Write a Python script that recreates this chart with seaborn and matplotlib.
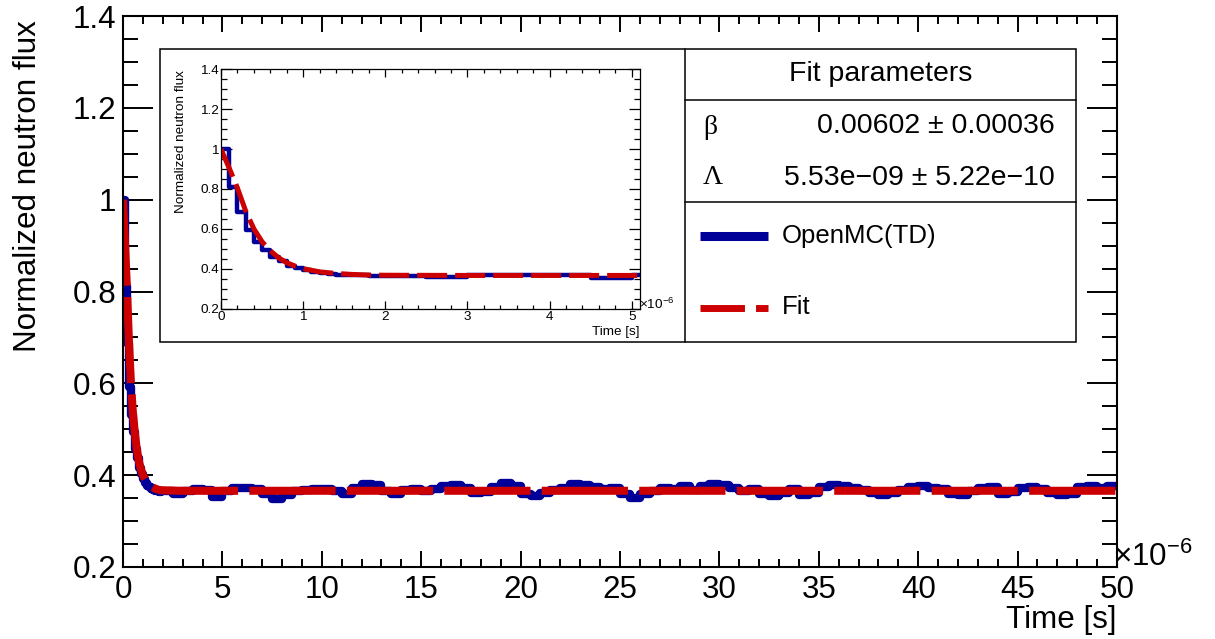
import numpy as np
import pandas as pd
import matplotlib
matplotlib.use("Agg")
import matplotlib.pyplot as plt
from matplotlib.ticker import MultipleLocator, FuncFormatter
from matplotlib.lines import Line2D
from matplotlib.patches import Rectangle
import seaborn as sns

# ---------------- data (time in microseconds) ----------------
early_bin_us = 0.1          # 0 - 2 us
late_bin_us = 0.5           # 2 - 50 us
early_flux = [1.000, 0.811, 0.687, 0.593, 0.532, 0.494, 0.458, 0.438, 0.415, 0.403,
              0.391, 0.383, 0.377, 0.374, 0.370, 0.367, 0.366, 0.366, 0.364, 0.365]
late_flux = [0.365, 0.360, 0.366, 0.370, 0.368, 0.352, 0.366, 0.371, 0.372, 0.370,
             0.358, 0.348, 0.356, 0.366, 0.368, 0.369, 0.370, 0.366, 0.360, 0.372,
             0.380, 0.378, 0.366, 0.360, 0.368, 0.370, 0.366, 0.370, 0.376, 0.379,
             0.372, 0.362, 0.364, 0.374, 0.382, 0.376, 0.358, 0.354, 0.362, 0.368,
             0.372, 0.380, 0.378, 0.374, 0.370, 0.372, 0.358, 0.350, 0.360, 0.366,
             0.372, 0.370, 0.376, 0.368, 0.376, 0.380, 0.378, 0.372, 0.366, 0.370,
             0.360, 0.355, 0.362, 0.370, 0.356, 0.362, 0.374, 0.378, 0.376, 0.372,
             0.368, 0.362, 0.356, 0.362, 0.368, 0.374, 0.376, 0.372, 0.370, 0.358,
             0.356, 0.366, 0.372, 0.374, 0.360, 0.364, 0.372, 0.374, 0.370, 0.362,
             0.356, 0.360, 0.374, 0.376, 0.372, 0.376]
fit_time_us = [0.0, 0.1, 0.2, 0.3, 0.4, 0.5, 0.6, 0.7, 0.8, 0.9, 1.0, 1.2, 1.4, 1.6,
               1.8, 2.0, 3.0, 50.0]
fit_flux = [1.000, 0.905, 0.805, 0.690, 0.600, 0.535, 0.490, 0.455, 0.430, 0.413,
            0.400, 0.384, 0.376, 0.371, 0.368, 0.367, 0.366, 0.366]

beta_text = "0.00602 \u00b1 0.00036"
lambda_text = "5.53e\u221209 \u00b1 5.22e\u221210"
header_text = "Fit parameters"
series_names = ["OpenMC(TD)", "Fit"]
x_label = "Time [s]"
y_label = "Normalized neutron flux"

# ---------------- build step table ----------------
early_edges = np.round(np.arange(len(early_flux) + 1) * early_bin_us, 6)
late_edges = np.round(early_edges[-1] + np.arange(1, len(late_flux) + 1) * late_bin_us, 6)
edges = np.concatenate([early_edges, late_edges])
flux = np.array(early_flux + late_flux)
hist_df = pd.DataFrame({"time": edges, "flux": np.append(flux, flux[-1])})
fit_df = pd.DataFrame({"time": fit_time_us, "flux": fit_flux})

# ---------------- style ----------------
sns.set_style("white")
plt.rcParams["font.family"] = ["Liberation Sans", "DejaVu Sans"]
plt.rcParams["mathtext.fontset"] = "custom"
plt.rcParams["mathtext.rm"] = "Liberation Sans"
plt.rcParams["mathtext.it"] = "Liberation Sans:italic"
plt.rcParams["axes.unicode_minus"] = True
for k in ["text.color", "axes.labelcolor", "xtick.color", "ytick.color",
          "xtick.labelcolor", "ytick.labelcolor", "axes.edgecolor"]:
    plt.rcParams[k] = "black"

BLUE = "#000099"
RED = "#cc0000"
W, H = 1215, 639
fig = plt.figure(figsize=(W / 100, H / 100), dpi=100)

fmt = FuncFormatter(lambda v, p: f"{v:g}")

# ---------------- main axes ----------------
ax = fig.add_axes([123 / W, 1 - 567 / H, 994 / W, 551 / H], zorder=0)
sns.lineplot(data=hist_df, x="time", y="flux", ax=ax, drawstyle="steps-post",
             color=BLUE, linewidth=6, estimator=None, sort=False, legend=False)
sns.lineplot(data=fit_df, x="time", y="flux", ax=ax, color=RED, linewidth=5.8,
             estimator=None, sort=False, legend=False)
ax.lines[-1].set_dashes((10.7, 1.4))
ax.lines[-1].set_dash_capstyle("butt")
ax.set_xlim(0, 50)
ax.set_ylim(0.2, 1.4)
ax.set_xlabel("")
ax.set_ylabel("")
ax.xaxis.set_major_locator(MultipleLocator(5))
ax.xaxis.set_minor_locator(MultipleLocator(1))
ax.yaxis.set_major_locator(MultipleLocator(0.2))
ax.yaxis.set_minor_locator(MultipleLocator(0.05))
ax.xaxis.set_major_formatter(fmt)
ax.yaxis.set_major_formatter(fmt)
ax.tick_params(which="both", direction="in", top=True, right=True, bottom=True,
               left=True, width=1.4, color="black", labelcolor="black",
               labelsize=22.6)
ax.tick_params(axis="x", which="major", length=11.5, pad=6)
ax.tick_params(axis="x", which="minor", length=5.8)
ax.tick_params(axis="y", which="major", length=21.6, pad=5)
ax.tick_params(axis="y", which="minor", length=10.8)
for s in ax.spines.values():
    s.set_linewidth(1.5)
    s.set_color("black")

# ---------------- overlay (box, legend, labels) ----------------
ov = fig.add_axes([0, 0, 1, 1], zorder=1)
ov.set_xlim(0, W)
ov.set_ylim(H, 0)
ov.set_axis_off()
ov.patch.set_facecolor("none")
ov.add_patch(Rectangle((160, 48.5), 1076 - 160, 342 - 48.5, facecolor="white",
                       edgecolor="black", linewidth=1.1))
ov.plot([685, 685], [48.5, 342], color="black", linewidth=1.1)
ov.plot([685, 1076], [100, 100], color="black", linewidth=1.1)
ov.plot([685, 1076], [202, 202], color="black", linewidth=1.1)
ov.text(880.5, 74, header_text, ha="center", va="center", fontsize=20.5)
ov.text(703, 127, "\u03b2", ha="left", va="center", fontsize=20,
        family=["Liberation Serif", "DejaVu Serif"])
ov.text(703, 177, "\u039b", ha="left", va="center", fontsize=20,
        family=["Liberation Serif", "DejaVu Serif"])
ov.text(1055, 126, beta_text, ha="right", va="center", fontsize=20.5)
ov.text(1055, 178, lambda_text, ha="right", va="center", fontsize=20.5)
ov.add_line(Line2D([700, 767.5], [236, 236], color=BLUE, linewidth=6.5,
                   solid_capstyle="butt"))
ov.text(782, 236, series_names[0], ha="left", va="center", fontsize=18.5)
ov.add_line(Line2D([700, 767.5], [307.5, 307.5], color=RED, linewidth=5,
                   dashes=(6.4, 1.6), dash_capstyle="butt"))
ov.text(782, 307.5, series_names[1], ha="left", va="center", fontsize=18.5)
# main axis labels
ov.text(1117, 620, x_label, ha="right", va="center", fontsize=22.6)
ov.text(28, 186, y_label, ha="center", va="center", rotation=90, fontsize=22.6)
ov.text(1113, 557, r"$\times10^{-6}$", ha="left", va="center", fontsize=22.6)
# inset axis labels
ov.text(640, 332, x_label, ha="right", va="center", fontsize=9.7)
ov.text(181, 142, y_label, ha="center", va="center", rotation=90, fontsize=9.7)
ov.text(639, 304, r"$\times10^{-6}$", ha="left", va="center", fontsize=9.7)

# ---------------- inset axes ----------------
ai = fig.add_axes([221 / W, 1 - 308.5 / H, 419 / W, 239 / H], zorder=2)
sns.lineplot(data=hist_df, x="time", y="flux", ax=ai, drawstyle="steps-post",
             color=BLUE, linewidth=3.2, estimator=None, sort=False, legend=False)
sns.lineplot(data=fit_df, x="time", y="flux", ax=ai, color=RED, linewidth=3.6,
             estimator=None, sort=False, legend=False)
ai.lines[-1].set_dashes((6, 1.6))
ai.lines[-1].set_dash_capstyle("butt")
ai.set_xlim(0, 5.1)
ai.set_ylim(0.2, 1.4)
ai.set_xlabel("")
ai.set_ylabel("")
ai.xaxis.set_major_locator(MultipleLocator(1))
ai.xaxis.set_minor_locator(MultipleLocator(0.2))
ai.yaxis.set_major_locator(MultipleLocator(0.2))
ai.yaxis.set_minor_locator(MultipleLocator(0.05))
ai.xaxis.set_major_formatter(fmt)
ai.yaxis.set_major_formatter(fmt)
ai.tick_params(which="both", direction="in", top=True, right=True, bottom=True,
               left=True, width=0.9, color="black", labelcolor="black",
               labelsize=9.7)
ai.tick_params(axis="x", which="major", length=5.7, pad=2)
ai.tick_params(axis="x", which="minor", length=2.9)
ai.tick_params(axis="y", which="major", length=8, pad=1.5)
ai.tick_params(axis="y", which="minor", length=4)
for s in ai.spines.values():
    s.set_linewidth(0.9)
    s.set_color("black")

fig.savefig("out.png", dpi=100)
